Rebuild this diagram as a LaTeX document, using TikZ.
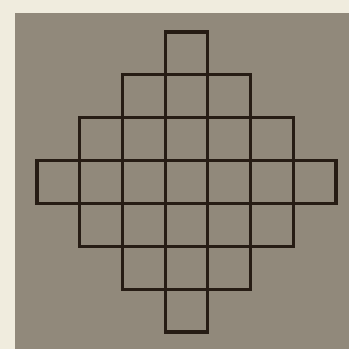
\documentclass[tikz,border=0pt]{standalone}
\definecolor{paper}{RGB}{240,236,222}
\definecolor{panel}{RGB}{145,137,123}
\definecolor{ink}{RGB}{38,28,20}
\begin{document}
\begin{tikzpicture}[x=1pt,y=-1pt,
  cell/.style={draw=ink,line width=3.2pt,line join=miter}]
\useasboundingbox (0,0) rectangle (349,349);
\fill[paper] (0,0) rectangle (349,349);
\fill[panel] (15,13) rectangle (349,349);
\def\cs{42.7}
\foreach \r/\n in {0/1,1/3,2/5,3/7,4/5,5/3,6/1}{
  \pgfmathsetmacro{\xs}{186.5-\n*\cs/2}
  \pgfmathsetmacro{\ys}{32+\r*42.85}
  \foreach \c in {1,...,\n}{
    \draw[cell] ({\xs+(\c-1)*\cs},\ys) rectangle ++(\cs,42.85);
  }
}
\end{tikzpicture}
\end{document}
